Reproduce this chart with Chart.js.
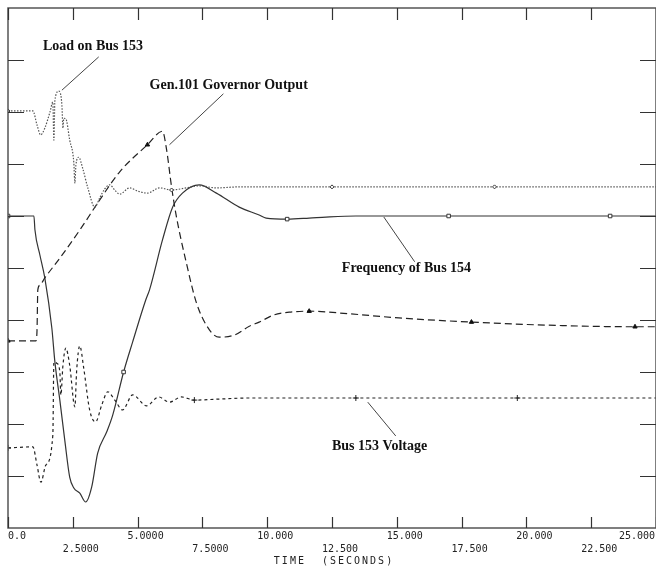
<!DOCTYPE html>
<html>
<head>
<meta charset="utf-8">
<script src="https://cdn.jsdelivr.net/npm/chart.js@4/dist/chart.umd.min.js"></script>
<style>
  html, body { margin: 0; padding: 0; background: #fff; overflow: hidden; width: 656px; height: 568px; }
  canvas { display: block; }
</style>
</head>
<body>
<canvas id="plot" width="660" height="568"></canvas>
<script>
// time axis ticks
const tickValues = [0, 2.5, 5, 7.5, 10, 12.5, 15, 17.5, 20, 22.5, 25]
const tickLabels = ['0.0', '2.5000', '5.0000', '7.5000', '10.000', '12.500', '15.000', '17.500', '20.000', '22.500', '25.000']

// Load on Bus 153
const loadT = [0, 0.96, 1.12, 1.26, 1.42, 1.62, 1.73, 1.77, 1.81, 1.96, 2.08, 2.12, 2.15, 2.23, 2.38, 2.54, 2.58, 2.62, 2.73, 2.88, 3.08, 3.35, 3.54, 3.73, 3.92, 4.12, 4.31, 4.69, 5.0, 5.38, 5.85, 6.31, 6.88, 7.38, 8.04, 8.92, 12.5, 18.77, 25]
const loadV = [8.02, 8.02, 7.75, 7.56, 7.69, 8.0, 8.19, 7.46, 8.23, 8.40, 8.13, 7.69, 7.88, 7.87, 7.46, 7.02, 6.63, 6.98, 7.13, 6.92, 6.54, 6.17, 6.35, 6.52, 6.60, 6.50, 6.42, 6.54, 6.48, 6.44, 6.54, 6.50, 6.54, 6.58, 6.54, 6.56, 6.56, 6.56, 6.56]
const loadMarks = [0, 6.31, 12.5, 18.77]

// Gen.101 Governor Output
const govT = [0, 1.08, 1.12, 1.15, 1.23, 1.42, 2.0, 2.77, 3.54, 4.31, 5.38, 5.96, 6.12, 6.31, 6.5, 6.88, 7.27, 7.77, 8.15, 8.73, 9.31, 9.69, 10.27, 10.85, 11.62, 13.15, 15.08, 17.88, 20.85, 24.19, 25]
const govV = [3.6, 3.6, 3.81, 4.58, 4.67, 4.81, 5.19, 5.73, 6.31, 6.85, 7.37, 7.63, 7.27, 6.56, 5.98, 5.1, 4.33, 3.81, 3.67, 3.71, 3.88, 3.96, 4.1, 4.15, 4.17, 4.12, 4.04, 3.96, 3.9, 3.87, 3.87]
const govMarks = [0, 5.38, 11.62, 17.88, 24.19]

// Frequency of Bus 154
const freqT = [0, 1.0, 1.04, 1.23, 1.42, 1.69, 1.81, 2.0, 2.19, 2.38, 2.54, 2.77, 3.0, 3.23, 3.46, 3.81, 4.04, 4.46, 4.81, 5.31, 5.46, 5.96, 6.35, 6.73, 7.38, 8.04, 8.92, 9.69, 9.96, 10.77, 11.62, 12.27, 13.42, 17.0, 23.23, 25]
const freqV = [6.0, 6.0, 5.73, 5.25, 4.81, 3.85, 3.19, 2.46, 1.69, 0.98, 0.77, 0.67, 0.5, 0.79, 1.44, 1.85, 2.17, 3.0, 3.58, 4.38, 4.58, 5.54, 6.17, 6.44, 6.6, 6.44, 6.17, 6.02, 5.96, 5.94, 5.96, 5.98, 6.0, 6.0, 6.0, 6.0]
const freqMarks = [0, 4.46, 10.77, 17.0, 23.23]

// Bus 153 Voltage
const voltT = [0, 0.96, 1.12, 1.27, 1.46, 1.73, 1.77, 1.88, 2.0, 2.04, 2.12, 2.23, 2.38, 2.58, 2.65, 2.77, 2.92, 3.15, 3.38, 3.62, 3.85, 4.12, 4.42, 4.81, 5.35, 5.81, 6.23, 6.69, 7.19, 8.15, 9.31, 13.42, 19.65, 25]
const voltV = [1.54, 1.56, 1.21, 0.88, 1.21, 1.79, 3.19, 3.17, 3.0, 2.56, 3.13, 3.46, 3.13, 2.33, 3.04, 3.5, 3.08, 2.27, 2.04, 2.37, 2.62, 2.46, 2.27, 2.56, 2.35, 2.52, 2.42, 2.52, 2.46, 2.48, 2.5, 2.5, 2.5, 2.5]
const voltMarks = [0, 7.19, 13.42, 19.65]

// callouts: text anchor and leader line, in data units
const notes = [
    { text: 'Load on Bus 153', at: [1.35, 9.27], from: [2.08, 8.42], to: [3.5, 9.06] },
    { text: 'Gen.101 Governor Output', at: [5.46, 8.52], from: [6.23, 7.37], to: [8.31, 8.35] },
    { text: 'Frequency of Bus 154', at: [12.88, 5.0], from: [14.5, 5.98], to: [15.69, 5.12] },
    { text: 'Bus 153 Voltage', at: [12.5, 1.56], from: [13.88, 2.42], to: [14.96, 1.77] }
]

const pts = (t, v) => t.map((x, i) => ({ x: x, y: v[i] }))
const markAt = (marks, r) => (c) => (c.raw && marks.includes(c.raw.x)) ? r : 0

const series = (label, t, v, marks, style) => Object.assign({
    label: label,
    data: pts(t, v),
    cubicInterpolationMode: 'monotone',
    borderWidth: 1.2,
    pointRadius: markAt(marks, style.r),
    pointHoverRadius: 0,
    pointBorderWidth: 1,
    pointBackgroundColor: '#fff'
}, style)

const decor = {
    id: 'decor',
    afterDraw(chart) {
        const g = chart.ctx
        const a = chart.chartArea
        const xs = chart.scales.x
        const ys = chart.scales.y
        g.save()
        // frame
        g.strokeStyle = '#555'
        g.lineWidth = 1.5
        g.strokeRect(a.left, a.top, a.right - a.left, a.bottom - a.top)
        // inward ticks
        g.lineWidth = 1.2
        g.strokeStyle = '#333'
        g.beginPath()
        tickValues.forEach(v => {
            const px = Math.round(xs.getPixelForValue(v)) + 0.5
            g.moveTo(px, a.bottom); g.lineTo(px, a.bottom - 11)
            g.moveTo(px, a.top); g.lineTo(px, a.top + 12)
        })
        for (let k = 1; k < 10; k++) {
            const py = Math.round(ys.getPixelForValue(k)) + 0.5
            g.moveTo(a.left, py); g.lineTo(a.left + 16, py)
            g.moveTo(a.right, py); g.lineTo(a.right - 16, py)
        }
        g.stroke()
        // tick labels, staggered in two rows
        g.fillStyle = '#222'
        g.font = '10px "DejaVu Sans Mono"'
        g.textAlign = 'center'
        g.textBaseline = 'middle'
        tickValues.forEach((v, i) => {
            const w = g.measureText(tickLabels[i]).width
            let cx = xs.getPixelForValue(v) + 8
            cx = Math.max(a.left + w / 2, Math.min(655 - w / 2, cx))
            g.fillText(tickLabels[i], cx, i % 2 ? a.bottom + 21 : a.bottom + 8)
        })
        g.letterSpacing = '2px'
        g.font = '10px "DejaVu Sans Mono"'
        g.fillText('TIME  (SECONDS)', (a.left + 656) / 2 + 2, a.bottom + 33)
        g.letterSpacing = '0px'
        // callouts
        g.strokeStyle = '#444'
        g.lineWidth = 1
        g.font = 'bold 14px "Liberation Serif"'
        g.textAlign = 'left'
        g.fillStyle = '#111'
        notes.forEach(n => {
            g.beginPath()
            g.moveTo(xs.getPixelForValue(n.from[0]), ys.getPixelForValue(n.from[1]))
            g.lineTo(xs.getPixelForValue(n.to[0]), ys.getPixelForValue(n.to[1]))
            g.stroke()
            g.fillText(n.text, xs.getPixelForValue(n.at[0]), ys.getPixelForValue(n.at[1]))
        })
        g.restore()
    }
}

const ctx = document.getElementById('plot')

const chart = new Chart(ctx, {
    type: 'line',
    data: {
        datasets: [
            series('Load on Bus 153', loadT, loadV, loadMarks, { borderColor: '#555', pointBorderColor: '#333', borderDash: [1.5, 1.5], pointStyle: 'rectRot', r: 2 }),
            series('Gen.101 Governor Output', govT, govV, govMarks, { borderColor: '#222', pointBorderColor: '#111', pointBackgroundColor: '#111', borderDash: [7, 4], pointStyle: 'triangle', r: 2.5 }),
            series('Frequency of Bus 154', freqT, freqV, freqMarks, { borderColor: '#333', pointBorderColor: '#333', pointStyle: 'rect', r: 2.5 }),
            series('Bus 153 Voltage', voltT, voltV, voltMarks, { borderColor: '#222', pointBorderColor: '#222', borderDash: [3, 3], pointStyle: 'cross', r: 3 })
        ]
    },
    options: {
        responsive: false,
        animation: false,
        layout: { padding: { left: 8, top: 8, right: 2, bottom: 40 } },
        plugins: {
            legend: { display: false },
            tooltip: { enabled: false }
        },
        scales: {
            x: { type: 'linear', min: 0, max: 25, display: false },
            y: { min: 0, max: 10, display: false }
        }
    },
    plugins: [decor]
});
</script>
</body>
</html>
